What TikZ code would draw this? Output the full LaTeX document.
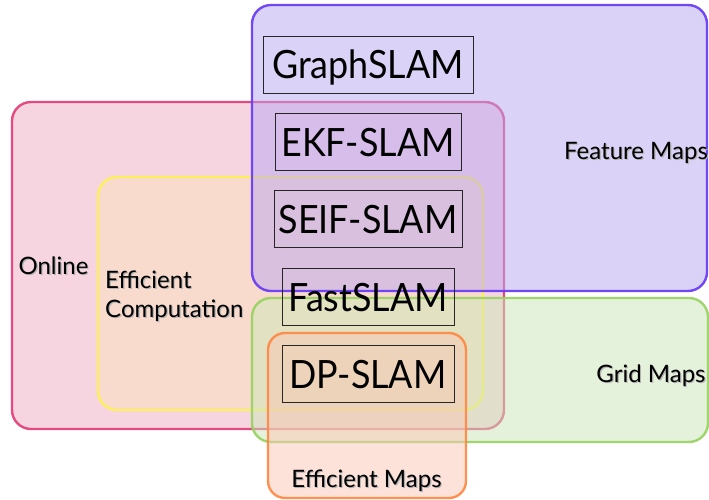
\documentclass[tikz,border=0pt]{standalone}
\usepackage{fontspec}
\setmainfont{Lato}
\definecolor{featfill}{RGB}{185,167,241}
\definecolor{featline}{RGB}{100,55,245}
\definecolor{onfill}{RGB}{239,173,197}
\definecolor{online}{RGB}{226,58,118}
\definecolor{ecfill}{RGB}{251,226,184}
\definecolor{ecline}{RGB}{255,242,80}
\definecolor{gridfill}{RGB}{205,231,185}
\definecolor{gridline}{RGB}{150,210,95}
\definecolor{emfill}{RGB}{251,199,181}
\definecolor{emline}{RGB}{255,135,65}
\newcommand{\shtxt}[1]{\makebox[0pt][l]{\raisebox{-1.3pt}{\hspace{1.2pt}\textcolor{black!30}{#1}}}#1}
\newcommand{\nar}[1]{\scalebox{0.92}[1]{#1}}
\begin{document}
\begin{tikzpicture}[x=1pt,y=-1pt,
  region/.style={rounded corners=19pt, line width=2.4pt, fill opacity=0.5, draw opacity=0.9},
  algobox/.style={draw=black!85, line width=0.9pt, font=\fontsize{39}{40}\selectfont,
    inner sep=0pt, text height=29pt, text depth=0pt, minimum height=57pt},
  lbl/.style={font=\fontsize{24}{28}\selectfont, anchor=base, inner sep=0pt}]
\useasboundingbox (0,0) rectangle (709,500);
\fill[white] (0,0) rectangle (709,500);
% regions
\draw[region, draw=online, fill=onfill] (12,102) rectangle (504,429);
\draw[region, draw=ecline, fill=ecfill] (98,177) rectangle (483,410);
\draw[region, draw=featline, fill=featfill] (252,5) rectangle (707,291);
\draw[region, draw=gridline, fill=gridfill] (252,298) rectangle (708,442);
\draw[region, draw=emline, fill=emfill, rounded corners=17pt] (268,333) rectangle (466,498);
% algorithm boxes
\node[algobox, minimum width=210pt] (graph) at (368,64.5) {\nar{GraphSLAM}};
\node[algobox, minimum width=186pt] (ekf) at (368,141.5) {\nar{EKF-SLAM}};
\node[algobox, minimum width=188pt] (seif) at (368,218.5) {\nar{SEIF-SLAM}};
\node[algobox, minimum width=172pt] (fast) at (368,296.5) {\nar{FastSLAM}};
\node[algobox, minimum width=172pt] (dp) at (368,373.5) {\nar{DP-SLAM}};
% labels
\node[lbl] (lfeat) at (636,159) {\shtxt{Feature Maps}};
\node[lbl] (lgrid) at (651,382) {\shtxt{Grid Maps}};
\node[lbl] (lonline) at (53.5,274) {\shtxt{Online}};
\node[lbl, anchor=base west] (lec1) at (105,288) {\shtxt{Efficient}};
\node[lbl, anchor=base west] (lec2) at (105,317) {\shtxt{Computation}};
\node[lbl] (lem) at (366.5,487) {\shtxt{Efficient Maps}};
\end{tikzpicture}
\end{document}
